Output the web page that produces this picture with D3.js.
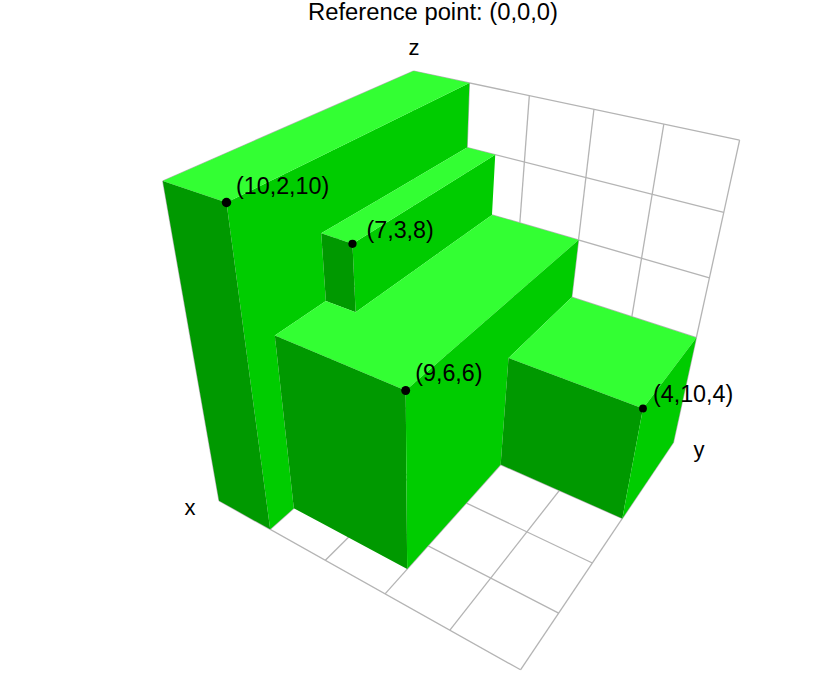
<!DOCTYPE html>
<html><head><meta charset="utf-8"><script src="https://cdn.jsdelivr.net/npm/d3@7"></script>
<style>html,body{margin:0;background:#fff}svg{display:block}text{font-family:"Liberation Sans",Arial,sans-serif;fill:#000}</style></head>
<body><svg id="c" width="830" height="673"></svg>
<script>
const pointX=[10,7,9,4], pointY=[2,3,6,10], pointZ=[10,8,6,4];
const pointLabels=["(10,2,10)","(7,3,8)","(9,6,6)","(4,10,4)"];
const gridTicks=[0,2,4,6,8,10];
const title="Reference point: (0,0,0)";
const P=[[-24.1493,16.2447,-7.27994,413.977],[5.22008,3.67654,-28.3402,342.034],[-0.0212566,-0.0143961,-0.0175103,1]];
const project=(x,y,z)=>{const w=P[2][0]*x+P[2][1]*y+P[2][2]*z+P[2][3];return [(P[0][0]*x+P[0][1]*y+P[0][2]*z+P[0][3])/w,(P[1][0]*x+P[1][1]*y+P[1][2]*z+P[1][3])/w,w];};
const svg=d3.select("#c");
const line=d3.line();
const gridG=svg.append("g").attr("fill","none").attr("stroke","#b4b4b4").attr("stroke-width",1.3);
const seg=(a,b)=>gridG.append("path").attr("d",line([project(...a).slice(0,2),project(...b).slice(0,2)]));
gridTicks.forEach(t=>{seg([0,t,0],[0,t,10]);seg([0,0,t],[0,10,t]);seg([t,0,0],[t,10,0]);seg([0,t,0],[10,t,0]);seg([t,0,0],[t,0,10]);seg([0,0,t],[10,0,t]);});
const bx=[...new Set([0,...pointX])].sort(d3.ascending),by=[...new Set([0,...pointY])].sort(d3.ascending),bz=[...new Set([0,...pointZ])].sort(d3.ascending);
const solid=(x,y,z)=>pointX.some((_,i)=>x<pointX[i]&&y<pointY[i]&&z<pointZ[i]);
const planes=new Map();
const addFace=(axis,coord,p)=>{const k=axis+coord;if(!planes.has(k))planes.set(k,{axis,d:"",fill:{x:"#009900",y:"#00cc00",z:"#33ff33"}[axis]});planes.get(k).d+=line(p.map(q=>project(...q).slice(0,2)))+"Z";};
for(let i=0;i<bx.length-1;i++)for(let j=0;j<by.length-1;j++)for(let k=0;k<bz.length-1;k++){
 const x0=bx[i],x1=bx[i+1],y0=by[j],y1=by[j+1],z0=bz[k],z1=bz[k+1];
 if(!solid(x0,y0,z0))continue;
 if(!solid(x1,y0,z0))addFace("x",x1,[[x1,y0,z0],[x1,y1,z0],[x1,y1,z1],[x1,y0,z1]]);
 if(!solid(x0,y1,z0))addFace("y",y1,[[x0,y1,z0],[x1,y1,z0],[x1,y1,z1],[x0,y1,z1]]);
 if(!solid(x0,y0,z1))addFace("z",z1,[[x0,y0,z1],[x1,y0,z1],[x1,y1,z1],[x0,y1,z1]]);
}
const drawOrder=["y2","y3","z10","x10","z8","x7","z6","x9","y6","z4","x4","y10"];
svg.append("g").selectAll("path").data(drawOrder.map(k=>planes.get(k))).join("path").attr("d",d=>d.d).attr("fill",d=>d.fill);
const labelDx=[9.5,14,9.5,10],labelDy=[-9,-6,-9,-6];
pointX.forEach((x,i)=>{const [u,v,w]=project(x,pointY[i],pointZ[i]);
 svg.append("circle").attr("cx",u).attr("cy",v).attr("r",2.75/w).attr("fill","#000");
 svg.append("text").attr("x",u+labelDx[i]).attr("y",v+labelDy[i]).attr("font-size",23.3).text(pointLabels[i]);});
svg.append("text").attr("x",308).attr("y",20).attr("font-size",23).attr("textLength",250).attr("lengthAdjust","spacingAndGlyphs").text(title);
[["x",190,515],["y",699,457],["z",414,55]].forEach(([t,x,y])=>svg.append("text").attr("x",x).attr("y",y).attr("text-anchor","middle").attr("font-size",22).text(t));
</script></body></html>
